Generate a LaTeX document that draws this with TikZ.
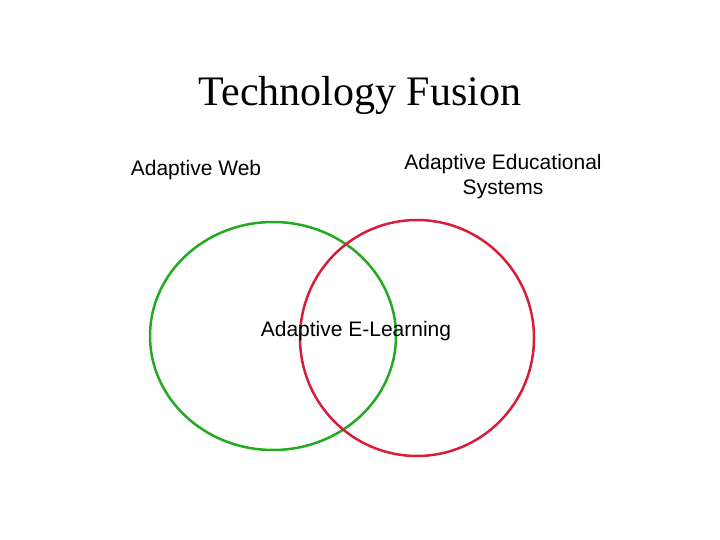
\documentclass[tikz,border=0pt]{standalone}
\usepackage{fontspec}
\setmainfont{Liberation Serif}
\newfontfamily\arialf{Liberation Sans}
\definecolor{cgreen}{RGB}{34,170,34}
\definecolor{cred}{RGB}{214,30,60}
\begin{document}
\begin{tikzpicture}[x=1pt,y=-1pt,
  lbl/.style={font=\arialf\fontsize{21}{25}\selectfont,align=center,inner sep=0pt}]
\useasboundingbox (0,0) rectangle (720,540);
\node[font=\fontsize{42}{48}\selectfont,inner sep=0pt] (title) at (360,95) {Technology Fusion};
\draw[cgreen,line width=2.5pt] (273,336) ellipse [x radius=123,y radius=114];
\draw[cred,line width=2.5pt] (417,338) ellipse [x radius=117,y radius=118];
\node[lbl] (web) at (196,170) {Adaptive Web};
\node[lbl] (aes) at (503,177) {Adaptive Educational\\Systems};
\node[lbl] (ael) at (356,331) {Adaptive E-Learning};
\end{tikzpicture}
\end{document}
